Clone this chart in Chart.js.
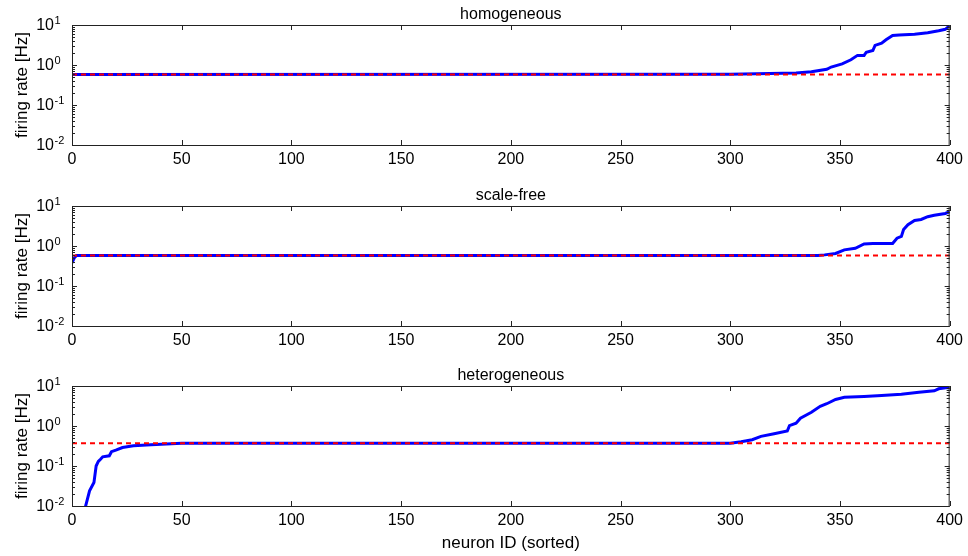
<!DOCTYPE html>
<html>
<head>
<meta charset="utf-8">
<script src="https://cdn.jsdelivr.net/npm/chart.js@4/dist/chart.umd.min.js"></script>
<style>
  body { margin: 0; background: #fff; }
  #main-container { position: relative; width: 968px; height: 556px; }
  .panel { position: absolute; left: 0; }
</style>
</head>
<body>
<div id="main-container">
  <div class="panel" style="top:0px"><canvas id="homogeneous-chart" width="968" height="180"></canvas></div>
  <div class="panel" style="top:181px"><canvas id="scalefree-chart" width="968" height="180"></canvas></div>
  <div class="panel" style="top:361px"><canvas id="heterogeneous-chart" width="968" height="195"></canvas></div>
</div>
<script>
// sorted neuron index vs. firing rate, one pair of arrays per network
const homoIds = [0, 300, 330, 337, 344, 346, 351, 355, 358, 361, 362, 365, 366, 369, 371, 374, 377, 384, 390, 395, 398, 400];
const homoRates = [0.58, 0.59, 0.63, 0.68, 0.78, 0.89, 1.07, 1.35, 1.74, 1.74, 2.09, 2.3, 3.1, 3.5, 4.27, 5.5, 5.6, 5.9, 6.4, 7.2, 7.8, 9.6];
const homoMean = 0.58;

const scaleIds = [0, 1, 2, 340, 343, 348, 352, 357, 361, 365, 368, 374, 376, 378, 379, 381, 384, 387, 390, 393, 398, 400];
const scaleRates = [0.38, 0.5, 0.58, 0.58, 0.6, 0.65, 0.8, 0.88, 1.13, 1.15, 1.15, 1.16, 1.57, 1.73, 2.57, 3.4, 4.35, 4.6, 5.4, 5.9, 6.5, 7.2];
const scaleMean = 0.58;

const heteroIds = [6, 8, 10, 11, 12, 13, 14, 17, 18, 20, 23, 28, 36, 43, 50, 300, 305, 310, 314, 320, 326, 327, 330, 332, 337, 341, 344, 348, 352, 361, 369, 378, 386, 393, 395, 399, 400];
const heteroRates = [0.009, 0.024, 0.0385, 0.1, 0.13, 0.148, 0.17, 0.18, 0.228, 0.25, 0.29, 0.32, 0.34, 0.355, 0.368, 0.37, 0.406, 0.455, 0.55, 0.64, 0.75, 1.02, 1.17, 1.56, 2.2, 3.1, 3.6, 4.6, 5.2, 5.5, 5.8, 6.25, 7.0, 7.6, 8.5, 9.1, 9.1];
const heteroMean = 0.37;

const xTicks = [0, 50, 100, 150, 200, 250, 300, 350, 400];
const yExponents = [-2, -1, 0, 1];

const FONT = '"Liberation Sans", Arial, Helvetica, sans-serif';
Chart.defaults.font.family = FONT;
Chart.defaults.color = "#000";

// box around the axes, inward ticks and 10^n labels
const axisBox = {
  id: "axisBox",
  afterDatasetsDraw(chart) {
    const { ctx, chartArea: a, scales } = chart;
    const x = scales.x;
    const y = scales.y;
    ctx.save();
    ctx.strokeStyle = "#222";
    ctx.lineWidth = 1;
    ctx.strokeRect(a.left + 0.5, a.top + 0.5, a.right - a.left - 1, a.bottom - a.top);

    ctx.beginPath();
    xTicks.forEach((v) => {
      const px = Math.round(x.getPixelForValue(v)) + 0.5;
      ctx.moveTo(px, a.bottom);
      ctx.lineTo(px, a.bottom - 5);
      ctx.moveTo(px, a.top);
      ctx.lineTo(px, a.top + 5);
    });
    yExponents.forEach((k) => {
      for (let d = 1; d <= 9; d++) {
        const v = d * Math.pow(10, k);
        if (v > 10.0001) break;
        const py = Math.round(y.getPixelForValue(v)) + 0.5;
        const len = d === 1 ? 5 : 3;
        ctx.moveTo(a.left, py);
        ctx.lineTo(a.left + len, py);
        ctx.moveTo(a.right, py);
        ctx.lineTo(a.right - len, py);
      }
    });
    ctx.stroke();

    ctx.fillStyle = "#000";
    ctx.textBaseline = "middle";
    yExponents.forEach((k) => {
      const py = y.getPixelForValue(Math.pow(10, k));
      ctx.font = "16px " + FONT;
      ctx.textAlign = "right";
      ctx.fillText("10", 54, py + 1);
      ctx.font = "11px " + FONT;
      ctx.textAlign = "left";
      ctx.fillText(k < 0 ? "-" + Math.abs(k) : String(k), 54.5, py - 4);
    });
    ctx.restore();
  },
};

function buildPanel(canvasId, title, ids, rates, meanRate, xAxisTitle, xAxisHeight) {
  const ctx = document.getElementById(canvasId).getContext("2d");
  const points = ids.map((id, i) => ({ x: id, y: rates[i] }));

  return new Chart(ctx, {
    type: "line",
    data: {
      datasets: [
        {
          label: "mean",
          data: [{ x: 0, y: meanRate }, { x: 400, y: meanRate }],
          borderColor: "#ff0000",
          borderWidth: 2,
          borderDash: [5, 4],
          pointRadius: 0,
          order: 0,
        },
        {
          label: "rate",
          data: points,
          borderColor: "#0000ff",
          borderWidth: 3,
          pointRadius: 0,
          tension: 0,
          order: 1,
        },
      ],
    },
    options: {
      responsive: false,
      animation: false,
      layout: { padding: { left: 0, right: 17, top: 0, bottom: 0 } },
      plugins: {
        legend: { display: false },
        tooltip: { enabled: false },
        title: {
          display: true,
          text: title,
          fullSize: false,
          font: { size: 16, weight: "normal" },
          color: "#000",
          padding: { top: 5, bottom: 0.8 },
        },
      },
      scales: {
        x: {
          type: "linear",
          min: 0,
          max: 400,
          afterFit: (s) => { s.height = xAxisHeight; },
          afterBuildTicks: (s) => { s.ticks = xTicks.map((v) => ({ value: v })); },
          ticks: { font: { size: 16 }, color: "#000", padding: 5 },
          grid: { display: false, drawTicks: false },
          border: { display: false },
          title: {
            display: !!xAxisTitle,
            text: xAxisTitle || "",
            font: { size: 17 },
            color: "#000",
            padding: { top: 0, bottom: 2 },
          },
        },
        y: {
          type: "logarithmic",
          min: 0.01,
          max: 10,
          afterFit: (s) => { s.width = 72; },
          ticks: { display: false },
          grid: { display: false, drawTicks: false },
          border: { display: false },
          title: {
            display: true,
            text: "firing rate [Hz]",
            font: { size: 17 },
            color: "#000",
            padding: { top: 12, bottom: 0 },
          },
        },
      },
    },
    plugins: [axisBox],
  });
}

buildPanel("homogeneous-chart", "homogeneous", homoIds, homoRates, homoMean, null, 35);
buildPanel("scalefree-chart", "scale-free", scaleIds, scaleRates, scaleMean, null, 35);
buildPanel("heterogeneous-chart", "heterogeneous", heteroIds, heteroRates, heteroMean, "neuron ID (sorted)", 50);
</script>
</body>
</html>
